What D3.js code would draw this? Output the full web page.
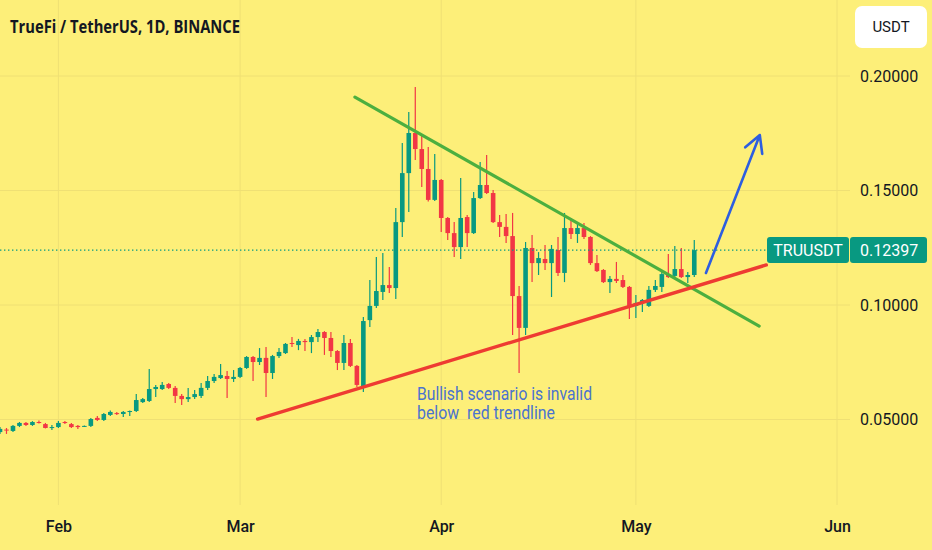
<!DOCTYPE html>
<html>
<head>
<meta charset="utf-8">
<script src="https://cdn.jsdelivr.net/npm/d3@7"></script>
<style>
  html, body { margin: 0; padding: 0; background: #fdef79; }
  svg { display: block; }
</style>
</head>
<body>
<svg id="chart" width="932" height="550"></svg>
<script>
// Daily TRU/USDT candles, first bar on 2021-01-23
const firstDay = '2021-01-23';

const openP = [
  0.0445, 0.0456, 0.0450, 0.0472, 0.0485, 0.0476, 0.0489, 0.0480, 0.0463, 0.0467,
  0.0489, 0.0480, 0.0472, 0.0469, 0.0472, 0.0507, 0.0498, 0.0520, 0.0528, 0.0524,
  0.0533, 0.0537, 0.0576, 0.0581, 0.0633, 0.0633, 0.0655, 0.0638, 0.0603, 0.0589,
  0.0598, 0.0603, 0.0638, 0.0668, 0.0681, 0.0690, 0.0677, 0.0686, 0.0725, 0.0773,
  0.0751, 0.0769, 0.0703, 0.0777, 0.0790, 0.0834, 0.0825, 0.0843, 0.0838, 0.0860,
  0.0882, 0.0856, 0.0799, 0.0747, 0.0834, 0.0734, 0.0642, 0.0934, 0.0996, 0.1057,
  0.1087, 0.1074, 0.1362, 0.1576, 0.1751, 0.1681, 0.1594, 0.1459, 0.1546, 0.1380,
  0.1314, 0.1253, 0.1384, 0.1314, 0.1467, 0.1524, 0.1489, 0.1362, 0.1341, 0.1301,
  0.1039, 0.0900, 0.1249, 0.1183, 0.1201, 0.1183, 0.1240, 0.1140, 0.1336, 0.1310,
  0.1336, 0.1297, 0.1183, 0.1153, 0.1100, 0.1114, 0.1109, 0.1079, 0.0996, 0.1009,
  0.0996, 0.1066, 0.1079, 0.1135, 0.1127, 0.1157, 0.1122, 0.1131
];
const highP = [
  0.0467, 0.0463, 0.0476, 0.0489, 0.0489, 0.0493, 0.0496, 0.0485, 0.0476, 0.0493,
  0.0493, 0.0485, 0.0476, 0.0474, 0.0507, 0.0515, 0.0528, 0.0539, 0.0533, 0.0537,
  0.0539, 0.0611, 0.0594, 0.0721, 0.0651, 0.0664, 0.0659, 0.0646, 0.0611, 0.0638,
  0.0629, 0.0659, 0.0690, 0.0699, 0.0742, 0.0712, 0.0716, 0.0729, 0.0777, 0.0777,
  0.0812, 0.0817, 0.0782, 0.0812, 0.0834, 0.0860, 0.0852, 0.0852, 0.0869, 0.0895,
  0.0886, 0.0882, 0.0803, 0.0869, 0.0852, 0.0738, 0.0948, 0.1109, 0.1210, 0.1227,
  0.1166, 0.1424, 0.1707, 0.1843, 0.1952, 0.1747, 0.1690, 0.1659, 0.1550, 0.1384,
  0.1362, 0.1555, 0.1393, 0.1493, 0.1624, 0.1655, 0.1502, 0.1393, 0.1397, 0.1402,
  0.1083, 0.1275, 0.1306, 0.1231, 0.1262, 0.1262, 0.1297, 0.1402, 0.1380, 0.1358,
  0.1358, 0.1301, 0.1218, 0.1157, 0.1127, 0.1188, 0.1131, 0.1083, 0.1044, 0.1026,
  0.1083, 0.1109, 0.1153, 0.1223, 0.1258, 0.1249, 0.1144, 0.1284
];
const lowP = [
  0.0437, 0.0437, 0.0445, 0.0467, 0.0472, 0.0472, 0.0483, 0.0461, 0.0454, 0.0463,
  0.0480, 0.0463, 0.0459, 0.0467, 0.0467, 0.0493, 0.0493, 0.0515, 0.0520, 0.0511,
  0.0515, 0.0533, 0.0572, 0.0576, 0.0598, 0.0629, 0.0633, 0.0572, 0.0563, 0.0576,
  0.0589, 0.0594, 0.0629, 0.0659, 0.0677, 0.0594, 0.0664, 0.0681, 0.0721, 0.0668,
  0.0738, 0.0598, 0.0677, 0.0769, 0.0786, 0.0817, 0.0803, 0.0799, 0.0790, 0.0838,
  0.0782, 0.0773, 0.0716, 0.0716, 0.0729, 0.0642, 0.0620, 0.0904, 0.0987, 0.1022,
  0.1052, 0.1026, 0.1297, 0.1406, 0.1633, 0.1515, 0.1452, 0.1454, 0.1319, 0.1284,
  0.1210, 0.1201, 0.1253, 0.1310, 0.1463, 0.1485, 0.1358, 0.1297, 0.1271, 0.0869,
  0.0703, 0.0869, 0.1100, 0.1131, 0.1153, 0.1035, 0.1127, 0.1100, 0.1288, 0.1271,
  0.1288, 0.1175, 0.1144, 0.1096, 0.1052, 0.1096, 0.1074, 0.0939, 0.0943, 0.0969,
  0.0991, 0.1057, 0.1057, 0.1118, 0.1122, 0.1118, 0.1096, 0.1122
];
const closeP = [
  0.0459, 0.0452, 0.0472, 0.0485, 0.0476, 0.0489, 0.0485, 0.0463, 0.0467, 0.0485,
  0.0485, 0.0467, 0.0467, 0.0472, 0.0502, 0.0498, 0.0524, 0.0533, 0.0524, 0.0533,
  0.0537, 0.0585, 0.0589, 0.0633, 0.0642, 0.0651, 0.0638, 0.0603, 0.0589, 0.0598,
  0.0611, 0.0638, 0.0668, 0.0686, 0.0694, 0.0677, 0.0686, 0.0725, 0.0773, 0.0751,
  0.0769, 0.0703, 0.0777, 0.0795, 0.0830, 0.0830, 0.0843, 0.0838, 0.0860, 0.0882,
  0.0856, 0.0799, 0.0747, 0.0834, 0.0734, 0.0651, 0.0930, 0.0996, 0.1061, 0.1087,
  0.1074, 0.1362, 0.1576, 0.1751, 0.1681, 0.1594, 0.1459, 0.1546, 0.1380, 0.1314,
  0.1253, 0.1380, 0.1314, 0.1467, 0.1524, 0.1489, 0.1362, 0.1341, 0.1301, 0.1039,
  0.0900, 0.1249, 0.1183, 0.1205, 0.1183, 0.1245, 0.1140, 0.1336, 0.1310, 0.1336,
  0.1297, 0.1183, 0.1148, 0.1100, 0.1114, 0.1105, 0.1079, 0.0996, 0.1009, 0.1022,
  0.1066, 0.1083, 0.1135, 0.1122, 0.1157, 0.1122, 0.1131, 0.12397
];

const priceTicks = [0.05, 0.10, 0.15, 0.20];
const lastPrice = 0.12397;

// Drawn lines, [bar index, price]
const greenLine = [[54.7, 0.1908], [117.0, 0.0908]];
const redLine = [[39.7, 0.0502], [118.1, 0.1175]];
const blueArrow = [[108.8, 0.1140], [117.1, 0.1742]];

const noteLines = ['Bullish scenario is invalid', 'below  red trendline'];

const up = '#089981';
const down = '#f23645';
const bg = '#fdef79';
const gridColor = '#efe074';
const dayMs = 864e5;

const svg = d3.select('#chart');
const plotRight = 850;
const plotBottom = 505;

const start = new Date(firstDay + 'T00:00:00Z');
const bars = openP.map((o, i) => ({
  date: new Date(+start + i * dayMs),
  o: o, h: highP[i], l: lowP[i], c: closeP[i]
}));

const x = d3.scaleUtc()
  .domain([start, new Date(Date.UTC(2021, 5, 3))])
  .range([0, plotRight]);

const y = d3.scaleLinear()
  .domain([0.05, 0.20])
  .range([419.5, 76]);

const atIdx = i => x(new Date(+start + i * dayMs));

svg.append('rect')
  .attr('width', 932).attr('height', 550)
  .attr('fill', bg);

// Grid
const months = x.ticks(d3.utcMonth.every(1));
svg.append('g')
  .selectAll('line')
  .data(months)
  .join('line')
  .attr('x1', d => x(d)).attr('x2', d => x(d))
  .attr('y1', 0).attr('y2', plotBottom)
  .attr('stroke', gridColor);

svg.append('g')
  .selectAll('line')
  .data(priceTicks)
  .join('line')
  .attr('x1', 0).attr('x2', plotRight)
  .attr('y1', d => y(d)).attr('y2', d => y(d))
  .attr('stroke', gridColor);

// Candles
const candles = svg.append('g');
const bw = 4.6;

candles.selectAll('line')
  .data(bars)
  .join('line')
  .attr('x1', d => x(d.date)).attr('x2', d => x(d.date))
  .attr('y1', d => y(d.h)).attr('y2', d => y(d.l))
  .attr('stroke', d => d.c >= d.o ? up : down)
  .attr('stroke-width', 1.2);

candles.selectAll('rect')
  .data(bars)
  .join('rect')
  .attr('x', d => x(d.date) - bw / 2)
  .attr('y', d => y(Math.max(d.o, d.c)))
  .attr('width', bw)
  .attr('height', d => Math.max(1, Math.abs(y(d.o) - y(d.c))))
  .attr('fill', d => d.c >= d.o ? up : down);

// Last price dotted line
svg.append('line')
  .attr('x1', 0).attr('x2', 767)
  .attr('y1', y(lastPrice)).attr('y2', y(lastPrice))
  .attr('stroke', up)
  .attr('stroke-width', 1.4)
  .attr('stroke-dasharray', '1.4,2.6');

// Trend lines
const seg = d3.line()
  .x(d => atIdx(d[0]))
  .y(d => y(d[1]));

svg.append('path')
  .attr('d', seg(greenLine))
  .attr('stroke', '#4caf3f')
  .attr('stroke-width', 3.2)
  .attr('stroke-linecap', 'round')
  .attr('fill', 'none');

svg.append('path')
  .attr('d', seg(redLine))
  .attr('stroke', '#ee3b32')
  .attr('stroke-width', 3.4)
  .attr('stroke-linecap', 'round')
  .attr('fill', 'none');

// Arrow
const ax0 = atIdx(blueArrow[0][0]), ay0 = y(blueArrow[0][1]);
const ax1 = atIdx(blueArrow[1][0]), ay1 = y(blueArrow[1][1]);
const ang = Math.atan2(ay1 - ay0, ax1 - ax0);
const headLen = 19, headAng = 0.5;
const wing = a => [ax1 - headLen * Math.cos(ang + a), ay1 - headLen * Math.sin(ang + a)];

svg.append('path')
  .attr('d', d3.line()([[ax0, ay0], [ax1, ay1]]) + d3.line()([wing(-headAng), [ax1, ay1], wing(headAng)]))
  .attr('stroke', '#2d5ee0')
  .attr('stroke-width', 2.6)
  .attr('stroke-linecap', 'round')
  .attr('stroke-linejoin', 'round')
  .attr('fill', 'none');

// Note - nbsp so the double space survives
svg.append('g')
  .attr('fill', '#4a73cf')
  .style('font', '17.5px Roboto, sans-serif')
  .selectAll('text')
  .data(noteLines)
  .join('text')
  .attr('x', 417)
  .attr('y', (d, i) => 400 + i * 19)
  .attr('textLength', (d, i) => i ? 138 : 175)
  .attr('lengthAdjust', 'spacingAndGlyphs')
  .text(d => d.replace(/  /g, ' \u00a0'));

// Month axis
const xAxis = svg.append('g')
  .attr('transform', `translate(0,${plotBottom})`)
  .call(d3.axisBottom(x).ticks(d3.utcMonth.every(1)).tickFormat(d3.utcFormat('%b')).tickSize(0).tickPadding(16));
xAxis.select('.domain').remove();
xAxis.selectAll('text')
  .attr('fill', '#131722')
  .style('font', '500 16px Roboto, sans-serif');

// Price axis
const yAxis = svg.append('g')
  .attr('transform', `translate(${plotRight},0)`)
  .call(d3.axisRight(y).tickValues(priceTicks).tickFormat(d3.format('.5f')).tickSize(0).tickPadding(10));
yAxis.select('.domain').remove();
yAxis.selectAll('text')
  .attr('fill', '#131722')
  .style('font', '16px Roboto, sans-serif');

// Last price label
const lbl = svg.append('g').attr('transform', `translate(0,${y(lastPrice)})`);
lbl.append('rect')
  .attr('x', 767).attr('y', -13).attr('width', 82).attr('height', 26).attr('rx', 3)
  .attr('fill', up);
lbl.append('rect')
  .attr('x', 850).attr('y', -13).attr('width', 77).attr('height', 26).attr('rx', 3)
  .attr('fill', up);
lbl.append('text')
  .attr('x', 808).attr('dy', '0.35em')
  .attr('text-anchor', 'middle')
  .attr('fill', '#fff')
  .style('font', '16px Roboto, sans-serif')
  .text('TRUUSDT');
lbl.append('text')
  .attr('x', 860).attr('dy', '0.35em')
  .attr('fill', '#fff')
  .style('font', '16px Roboto, sans-serif')
  .text(d3.format('.5f')(lastPrice));

// Currency button
svg.append('rect')
  .attr('x', 855).attr('y', 6).attr('width', 72).attr('height', 42).attr('rx', 7)
  .attr('fill', '#fff');
svg.append('text')
  .attr('x', 891).attr('y', 27).attr('dy', '0.35em')
  .attr('text-anchor', 'middle')
  .attr('fill', '#131722')
  .style('font', '15px Roboto, sans-serif')
  .text('USDT');

// Title
svg.append('text')
  .attr('x', 10).attr('y', 33)
  .attr('fill', '#131722')
  .attr('textLength', 230)
  .attr('lengthAdjust', 'spacingAndGlyphs')
  .style('font', 'bold 18px "Open Sans", sans-serif')
  .text('TrueFi / TetherUS, 1D, BINANCE');
</script>
</body>
</html>
